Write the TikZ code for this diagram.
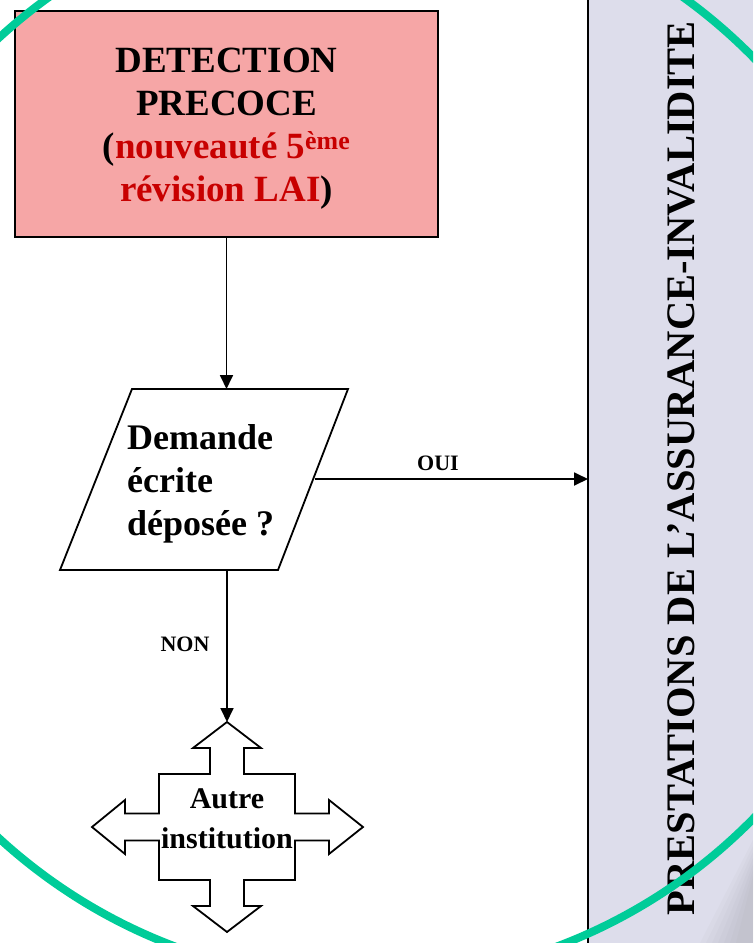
\documentclass[tikz,border=0pt]{standalone}
\usepackage{fontspec}
\setmainfont{Liberation Serif}
\usetikzlibrary{arrows.meta}
\definecolor{boxpink}{RGB}{246,166,166}
\definecolor{colgray}{RGB}{221,221,235}
\definecolor{ringgreen}{RGB}{0,204,153}
\definecolor{darkred}{RGB}{200,0,0}
\tikzset{
  conn/.style={line width=1.8pt, -{Triangle[length=14pt,width=13pt]}},
  lbl/.style={font=\bfseries\fontsize{22}{26}\selectfont, inner sep=0pt},
  outline/.style={line width=1.8pt, draw=black, line join=miter},
  bigtxt/.style={font=\bfseries\fontsize{37}{43}\selectfont, align=center, inner sep=0pt},
  qtxt/.style={font=\bfseries\fontsize{36}{43}\selectfont, align=left, inner sep=0pt, anchor=north west},
}
\begin{document}
\begin{tikzpicture}[x=1pt,y=-1pt]
\useasboundingbox (0,0) rectangle (753,943);
% right column
\fill[colgray] (588,0) rectangle (753,943);
\foreach \d in {0,6,...,36} {
  \fill[gray,opacity=0.04] (700+\d,943) -- (753,840+\d) -- (753,943) -- cycle;
}
\draw[line width=2pt] (588,0) -- (588,943);
\node[rotate=90, font=\bfseries\fontsize{40.5}{44}\selectfont, inner sep=0pt] (col) at (681,468) {PRESTATIONS DE L’ASSURANCE-INVALIDITE};
\coordinate (colin) at (588,479);
% red box
\node[outline, fill=boxpink, minimum width=423pt, minimum height=226pt, inner sep=0pt] (box) at (226.5,124) {};
\node[bigtxt, text=black] (boxtxt) at (226.5,129) {DETECTION\\PRECOCE\\(\textcolor{darkred}{nouveauté 5\textsuperscript{ème}}\\\textcolor{darkred}{révision LAI})};
% parallelogram
\draw[outline] (60,570) -- (132,389) -- (348,389) -- (278,570) -- cycle;
\coordinate (qtop) at (226.5,389);
\coordinate (qbot) at (227,570);
\coordinate (qright) at (315,479);
\node[qtxt] (qtext) at (127,424) {Demande\\écrite\\déposée ?};
% quad arrow
\begin{scope}[shift={(227,827)}]
\draw[outline] (0,-105) -- (34,-79) -- (17,-79) -- (17,-53) -- (68,-53) -- (68,-13.5) -- (102,-13.5) -- (102,-27) -- (136,0) -- (102,27) -- (102,13.5) -- (68,13.5) -- (68,53) -- (17,53) -- (17,79) -- (34,79) -- (0,105) -- (-34,79) -- (-17,79) -- (-17,53) -- (-68,53) -- (-68,13.5) -- (-102,13.5) -- (-102,27) -- (-135,0) -- (-102,-27) -- (-102,-13.5) -- (-68,-13.5) -- (-68,-53) -- (-17,-53) -- (-17,-79) -- (-34,-79) -- cycle;
\coordinate (quadtop) at (0,-105);
\node[font=\bfseries\fontsize{30}{40}\selectfont, align=center, inner sep=0pt] (quadtxt) at (0,-8) {Autre\\institution};
\end{scope}
% connectors
\draw[conn] (box.south) -- (qtop);
\draw[conn] (qright) -- (colin);
\node[lbl] (oui) at (438,463) {OUI};
\draw[conn] (qbot) -- (quadtop);
\node[lbl] (non) at (185,644) {NON};
% green ring
\begin{scope}
\clip (0,0) rectangle (753,943);
\draw[ringgreen, line width=8pt] (366,438) circle[radius=543pt];
\end{scope}
\end{tikzpicture}
\end{document}
